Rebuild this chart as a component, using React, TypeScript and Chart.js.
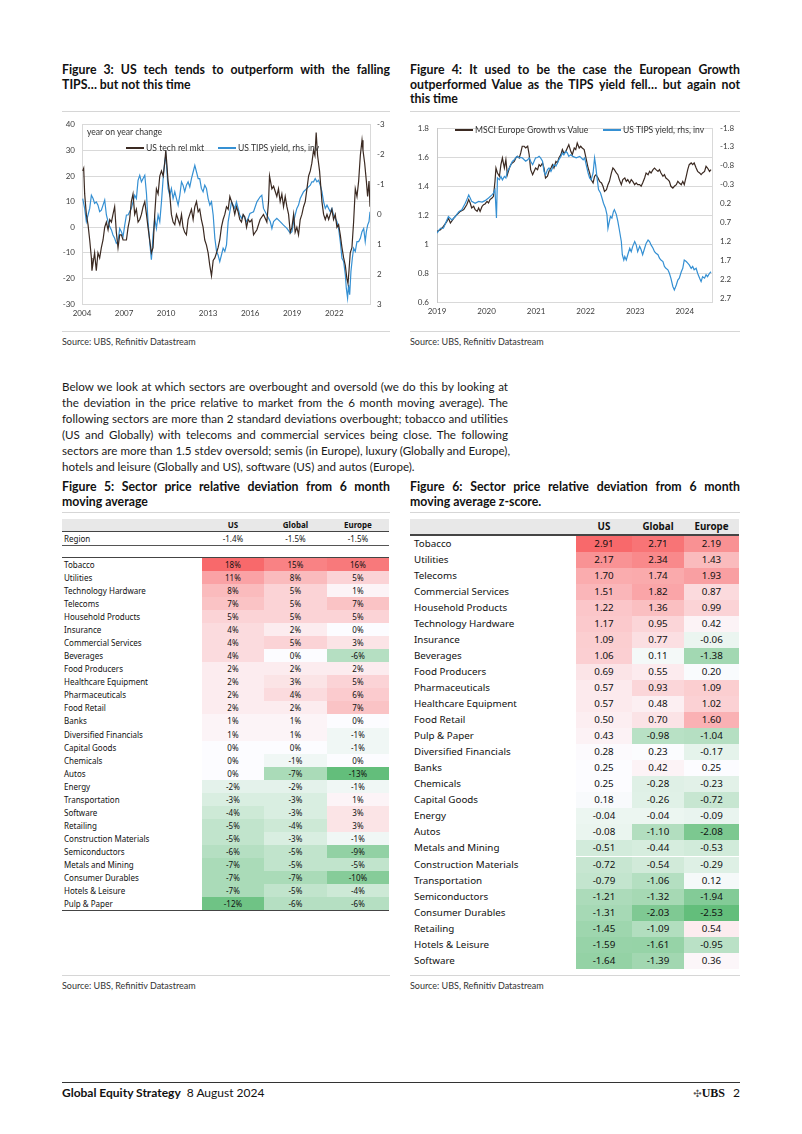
import React, { useEffect, useRef } from "react";
import { Chart, registerables } from "chart.js";

Chart.register(...registerables);

// ---------------- Figure 3 data ----------------
const fig3XTicks = [2004, 2007, 2010, 2013, 2016, 2019, 2022];
const fig3LeftTicks = [-30, -20, -10, 0, 10, 20, 30, 40];
const fig3RightTicks = [-3, -2, -1, 0, 1, 2, 3];

const techRelMkt: [number, number][] = [
  [2004.05, 22], [2004.12, 23], [2004.19, 13], [2004.31, 5], [2004.43, 1], [2004.55, -5], [2004.67, -12], [2004.71, -17], [2004.9, -10], [2005.02, -17],
  [2005.14, -10], [2005.26, -12], [2005.38, -8], [2005.5, -5], [2005.62, 0], [2005.74, 2], [2005.86, -1], [2005.98, 3], [2006.1, 2], [2006.21, 5],
  [2006.33, 8], [2006.45, -2], [2006.57, -8], [2006.69, -3], [2006.81, -3], [2006.93, -5], [2007.05, -5], [2007.17, -5], [2007.29, 0], [2007.4, 3],
  [2007.52, 10], [2007.64, 13], [2007.76, 5], [2007.88, 7], [2008.0, 2], [2008.12, 3], [2008.24, 5], [2008.36, 8], [2008.48, 10], [2008.6, 5],
  [2008.71, 0], [2008.83, -5], [2008.95, -10], [2009.07, -8], [2009.19, 5], [2009.31, 15], [2009.43, 13], [2009.55, 20], [2009.67, 22], [2009.79, 20],
  [2009.9, 25], [2009.98, 30], [2010.05, 25], [2010.14, 18], [2010.26, 13], [2010.38, 5], [2010.5, 2], [2010.62, 1], [2010.74, 5], [2010.86, 3],
  [2010.98, 1], [2011.1, 5], [2011.21, 0], [2011.33, -2], [2011.45, -3], [2011.57, 3], [2011.69, 5], [2011.81, 7], [2011.93, 3], [2012.05, 8],
  [2012.17, 10], [2012.29, 6], [2012.4, 7], [2012.52, 3], [2012.64, 0], [2012.76, -5], [2012.88, -7], [2013.0, -10], [2013.12, -15], [2013.24, -19],
  [2013.36, -13], [2013.48, -12], [2013.6, -10], [2013.71, -8], [2013.83, -5], [2013.95, 0], [2014.07, 3], [2014.19, 5], [2014.31, 8], [2014.43, 7],
  [2014.55, 12], [2014.67, 10], [2014.79, 8], [2014.9, 5], [2015.02, 8], [2015.14, 6], [2015.26, 3], [2015.38, 2], [2015.5, 5], [2015.62, 4],
  [2015.74, 0], [2015.86, 3], [2015.98, 2], [2016.12, 3], [2016.24, -3], [2016.48, -1], [2016.71, 3], [2016.95, 5], [2017.19, 2], [2017.31, 10],
  [2017.38, 20], [2017.55, 15], [2017.67, 16], [2017.9, 12], [2018.02, 15], [2018.14, 10], [2018.26, 13], [2018.38, 8], [2018.5, 12], [2018.62, 8],
  [2018.74, 5], [2018.86, -2], [2018.98, 0], [2019.1, 5], [2019.21, -2], [2019.33, 0], [2019.45, -3], [2019.57, 3], [2019.69, 5], [2019.81, 8],
  [2019.93, 10], [2020.05, 15], [2020.17, 20], [2020.29, 22], [2020.4, 25], [2020.52, 30], [2020.62, 28], [2020.71, 37], [2020.81, 28], [2020.95, 22],
  [2021.05, 15], [2021.12, 10], [2021.24, 5], [2021.36, 3], [2021.48, 5], [2021.6, 3], [2021.71, 5], [2021.83, 7], [2021.95, 3], [2022.07, 5],
  [2022.19, 0], [2022.31, 1], [2022.43, -3], [2022.55, -8], [2022.67, -12], [2022.79, -15], [2022.9, -20], [2022.98, -22], [2023.05, -17], [2023.14, -10],
  [2023.26, -8], [2023.38, 2], [2023.5, 15], [2023.62, 12], [2023.74, 18], [2023.86, 28], [2023.98, 34], [2024.05, 30], [2024.17, 25], [2024.29, 18],
  [2024.38, 12], [2024.48, 18], [2024.55, 8],
];

const tipsYoY: [number, number][] = [
  [2004.05, -0.53], [2004.19, -0.2], [2004.31, 0.24], [2004.43, 0.02], [2004.55, -0.2], [2004.67, -0.64], [2004.79, -0.53], [2004.9, -0.37], [2005.02, -0.42], [2005.14, -0.31],
  [2005.26, -0.09], [2005.38, -0.14], [2005.5, -0.31], [2005.62, -0.48], [2005.74, 0.02], [2005.86, 0.24], [2005.98, 0.41], [2006.1, 0.52], [2006.21, 0.69], [2006.33, 0.8],
  [2006.45, 0.97], [2006.57, 0.91], [2006.69, 0.47], [2006.81, 0.58], [2006.93, 0.74], [2007.05, 0.36], [2007.17, 0.02], [2007.29, 0.02], [2007.4, -0.09], [2007.52, -0.2],
  [2007.64, -0.42], [2007.76, -0.64], [2007.88, -0.53], [2008.0, -1.14], [2008.12, -1.31], [2008.24, -1.09], [2008.36, -1.2], [2008.48, -1.31], [2008.6, -0.7], [2008.71, 0.24],
  [2008.83, 0.91], [2008.95, 1.52], [2009.0, 1.24], [2009.07, 0.69], [2009.19, 0.13], [2009.31, 0.47], [2009.43, 0.02], [2009.55, 0.24], [2009.67, -0.42], [2009.79, -1.2],
  [2009.9, -1.76], [2009.98, -1.98], [2010.05, -1.53], [2010.14, -0.87], [2010.26, -0.64], [2010.38, -0.87], [2010.5, -0.53], [2010.62, -0.76], [2010.74, -0.53], [2010.86, -0.31],
  [2010.98, -0.64], [2011.1, -1.09], [2011.21, -0.98], [2011.33, -0.76], [2011.45, -0.98], [2011.57, -1.09], [2011.69, -0.92], [2011.81, -1.2], [2011.93, -1.42], [2012.05, -1.64],
  [2012.17, -1.42], [2012.29, -1.2], [2012.4, -1.2], [2012.52, -0.87], [2012.64, -0.76], [2012.76, -0.98], [2012.88, -0.87], [2013.0, -0.53], [2013.12, -0.31], [2013.24, -0.42],
  [2013.36, 0.02], [2013.48, 0.8], [2013.6, 1.24], [2013.71, 1.36], [2013.83, 1.58], [2013.95, 1.36], [2014.07, 1.13], [2014.19, 1.24], [2014.31, 1.02], [2014.43, 0.24],
  [2014.55, -0.09], [2014.67, -0.42], [2014.79, -0.31], [2014.9, -0.2], [2015.02, -0.42], [2015.14, -0.2], [2015.26, 0.02], [2015.38, 0.13], [2015.5, 0.02], [2015.62, 0.13],
  [2015.74, 0.24], [2015.86, 0.13], [2015.98, -0.03], [2016.24, -0.09], [2016.48, -0.42], [2016.71, -0.59], [2016.83, -0.64], [2016.95, -0.2], [2017.19, 0.02], [2017.43, 0.24],
  [2017.55, 0.47], [2017.67, 0.24], [2017.9, 0.13], [2018.14, 0.24], [2018.38, 0.36], [2018.62, 0.47], [2018.86, 0.63], [2018.98, 0.58], [2019.1, 0.24], [2019.21, 0.02],
  [2019.33, -0.2], [2019.45, -0.31], [2019.57, -0.53], [2019.81, -0.76], [2020.05, -0.87], [2020.29, -0.98], [2020.4, -1.09], [2020.52, -1.09], [2020.64, -1.2], [2020.76, -1.09],
  [2020.88, -1.14], [2021.0, -0.98], [2021.12, -0.76], [2021.24, -0.42], [2021.36, -0.2], [2021.48, -0.31], [2021.71, -0.09], [2021.83, -0.2], [2021.95, 0.02], [2022.07, 0.13],
  [2022.19, 0.24], [2022.31, 0.47], [2022.43, 0.91], [2022.55, 1.47], [2022.67, 1.58], [2022.79, 2.02], [2022.86, 2.47], [2022.95, 2.8], [2023.02, 2.36], [2023.1, 2.69],
  [2023.19, 1.91], [2023.29, 1.47], [2023.38, 1.13], [2023.5, 1.24], [2023.62, 0.91], [2023.74, 0.91], [2023.86, 0.8], [2023.98, 0.58], [2024.1, 0.47], [2024.21, 0.91],
  [2024.29, 0.58], [2024.38, 0.36], [2024.48, 0.24], [2024.55, -0.09],
];

// ---------------- Figure 4 data ----------------
const fig4XTicks = [2019, 2020, 2021, 2022, 2023, 2024];
const fig4LeftTicks = [0.6, 0.8, 1.0, 1.2, 1.4, 1.6, 1.8];
const fig4RightTicks = [-1.8, -1.3, -0.8, -0.3, 0.2, 0.7, 1.2, 1.7, 2.2, 2.7];

const msciGrowthVsValue: [number, number][] = [
  [2019.0, 1.087], [2019.07, 1.099], [2019.13, 1.122], [2019.2, 1.156], [2019.23, 1.179], [2019.27, 1.145], [2019.34, 1.179], [2019.4, 1.202], [2019.47, 1.225], [2019.54, 1.237],
  [2019.6, 1.271], [2019.64, 1.306], [2019.67, 1.283], [2019.7, 1.248], [2019.74, 1.26], [2019.77, 1.237], [2019.81, 1.225], [2019.84, 1.248], [2019.87, 1.225], [2019.91, 1.26],
  [2019.94, 1.271], [2019.97, 1.276], [2020.01, 1.294], [2020.04, 1.283], [2020.07, 1.306], [2020.11, 1.317], [2020.14, 1.329], [2020.17, 1.432], [2020.19, 1.524], [2020.22, 1.49],
  [2020.26, 1.467], [2020.29, 1.547], [2020.32, 1.593], [2020.36, 1.524], [2020.39, 1.582], [2020.42, 1.478], [2020.46, 1.524], [2020.49, 1.547], [2020.52, 1.559], [2020.56, 1.57],
  [2020.59, 1.593], [2020.62, 1.605], [2020.66, 1.593], [2020.69, 1.628], [2020.72, 1.674], [2020.76, 1.674], [2020.79, 1.662], [2020.83, 1.674], [2020.86, 1.616], [2020.89, 1.513],
  [2020.93, 1.478], [2020.96, 1.501], [2020.99, 1.524], [2021.03, 1.513], [2021.06, 1.547], [2021.09, 1.536], [2021.13, 1.559], [2021.16, 1.524], [2021.19, 1.455], [2021.23, 1.467],
  [2021.26, 1.501], [2021.3, 1.524], [2021.33, 1.547], [2021.36, 1.524], [2021.4, 1.57], [2021.43, 1.559], [2021.46, 1.593], [2021.5, 1.616], [2021.53, 1.651], [2021.56, 1.628],
  [2021.6, 1.639], [2021.63, 1.662], [2021.66, 1.685], [2021.7, 1.639], [2021.73, 1.616], [2021.77, 1.662], [2021.8, 1.651], [2021.83, 1.697], [2021.87, 1.662], [2021.9, 1.674],
  [2021.93, 1.662], [2021.97, 1.651], [2022.0, 1.605], [2022.05, 1.524], [2022.08, 1.49], [2022.11, 1.444], [2022.15, 1.421], [2022.18, 1.467], [2022.21, 1.478], [2022.25, 1.455],
  [2022.28, 1.432], [2022.32, 1.421], [2022.35, 1.398], [2022.38, 1.363], [2022.42, 1.375], [2022.45, 1.409], [2022.48, 1.432], [2022.52, 1.49], [2022.55, 1.524], [2022.58, 1.513],
  [2022.62, 1.49], [2022.65, 1.478], [2022.68, 1.444], [2022.72, 1.409], [2022.75, 1.444], [2022.79, 1.455], [2022.82, 1.432], [2022.85, 1.444], [2022.89, 1.421], [2022.92, 1.444],
  [2022.95, 1.432], [2022.99, 1.409], [2023.02, 1.421], [2023.05, 1.409], [2023.09, 1.409], [2023.12, 1.398], [2023.15, 1.421], [2023.19, 1.455], [2023.22, 1.49], [2023.26, 1.478],
  [2023.29, 1.501], [2023.32, 1.49], [2023.36, 1.513], [2023.39, 1.524], [2023.42, 1.513], [2023.46, 1.501], [2023.49, 1.513], [2023.52, 1.49], [2023.56, 1.467], [2023.59, 1.478],
  [2023.62, 1.455], [2023.66, 1.444], [2023.69, 1.432], [2023.72, 1.398], [2023.76, 1.386], [2023.79, 1.398], [2023.83, 1.409], [2023.86, 1.432], [2023.89, 1.421], [2023.93, 1.409],
  [2023.96, 1.432], [2023.99, 1.409], [2024.03, 1.467], [2024.06, 1.513], [2024.09, 1.547], [2024.13, 1.559], [2024.16, 1.547], [2024.19, 1.559], [2024.23, 1.524], [2024.26, 1.501],
  [2024.3, 1.49], [2024.33, 1.478], [2024.36, 1.49], [2024.4, 1.501], [2024.43, 1.536], [2024.46, 1.524], [2024.5, 1.501], [2024.53, 1.513],
];

const tipsYieldLevel: [number, number][] = [
  [2019.0, 0.98], [2019.07, 0.85], [2019.13, 0.85], [2019.2, 0.63], [2019.23, 0.54], [2019.3, 0.63], [2019.37, 0.54], [2019.44, 0.41], [2019.5, 0.36], [2019.57, 0.19],
  [2019.6, 0.1], [2019.64, -0.03], [2019.67, 0.05], [2019.7, 0.14], [2019.77, 0.19], [2019.84, 0.14], [2019.91, 0.16], [2019.97, 0.12], [2020.04, 0.05], [2020.11, -0.03],
  [2020.14, -0.08], [2020.17, -0.17], [2020.2, 0.58], [2020.22, -0.48], [2020.26, -0.43], [2020.29, -0.52], [2020.32, -0.43], [2020.36, -0.52], [2020.39, -0.48], [2020.42, -0.65],
  [2020.46, -0.74], [2020.49, -0.83], [2020.52, -0.92], [2020.56, -0.96], [2020.59, -1.02], [2020.62, -1.05], [2020.66, -1.01], [2020.69, -1.02], [2020.72, -1.01], [2020.76, -0.96],
  [2020.79, -0.92], [2020.83, -0.96], [2020.86, -1.01], [2020.89, -0.92], [2020.93, -0.83], [2020.96, -0.92], [2020.99, -1.01], [2021.03, -1.02], [2021.06, -1.05], [2021.09, -1.01],
  [2021.13, -0.92], [2021.16, -0.65], [2021.19, -0.56], [2021.23, -0.7], [2021.26, -0.74], [2021.3, -0.65], [2021.33, -0.74], [2021.36, -0.83], [2021.4, -0.79], [2021.43, -0.87],
  [2021.46, -0.96], [2021.5, -1.05], [2021.53, -1.14], [2021.56, -1.09], [2021.6, -1.18], [2021.63, -1.14], [2021.66, -1.05], [2021.7, -1.09], [2021.74, -1.05], [2021.81, -1.01],
  [2021.88, -1.05], [2021.95, -0.96], [2021.98, -1.01], [2022.01, -0.83], [2022.05, -0.61], [2022.08, -0.48], [2022.11, -0.43], [2022.15, -0.61], [2022.18, -1.01], [2022.2, -0.83],
  [2022.23, -0.48], [2022.26, -0.17], [2022.3, -0.08], [2022.33, 0.05], [2022.36, 0.19], [2022.4, 0.32], [2022.43, 0.49], [2022.45, 0.85], [2022.47, 0.72], [2022.5, 0.54],
  [2022.53, 0.58], [2022.56, 0.41], [2022.58, 0.36], [2022.62, 0.49], [2022.65, 0.67], [2022.68, 0.89], [2022.72, 1.2], [2022.74, 1.55], [2022.77, 1.69], [2022.79, 1.6],
  [2022.82, 1.69], [2022.85, 1.55], [2022.89, 1.38], [2022.92, 1.47], [2022.95, 1.33], [2022.99, 1.2], [2023.02, 1.29], [2023.05, 1.47], [2023.09, 1.33], [2023.12, 1.42],
  [2023.15, 1.55], [2023.19, 1.38], [2023.22, 1.25], [2023.26, 1.16], [2023.29, 1.2], [2023.32, 1.29], [2023.36, 1.38], [2023.39, 1.47], [2023.42, 1.51], [2023.46, 1.55],
  [2023.49, 1.64], [2023.52, 1.69], [2023.56, 1.73], [2023.59, 1.86], [2023.62, 1.91], [2023.66, 1.95], [2023.69, 2.04], [2023.72, 2.17], [2023.76, 2.39], [2023.79, 2.48],
  [2023.83, 2.35], [2023.86, 2.22], [2023.89, 2.17], [2023.93, 2.0], [2023.96, 1.91], [2023.99, 1.69], [2024.03, 1.73], [2024.06, 1.77], [2024.09, 1.82], [2024.13, 1.91],
  [2024.16, 1.86], [2024.19, 1.95], [2024.23, 1.91], [2024.26, 2.04], [2024.3, 2.17], [2024.33, 2.26], [2024.36, 2.13], [2024.4, 2.17], [2024.43, 2.08], [2024.46, 2.13],
  [2024.5, 2.04], [2024.53, 2.0],
];

// ---------------- Figure 5 data ----------------
const fig5Columns = ["US", "Global", "Europe"];
const fig5Region = ["-1.4%", "-1.5%", "-1.5%"];
const fig5Sectors = [
  "Tobacco", "Utilities", "Technology Hardware", "Telecoms", "Household Products", "Insurance", "Commercial Services", "Beverages", "Food Producers",
  "Healthcare Equipment", "Pharmaceuticals", "Food Retail", "Banks", "Diversified Financials", "Capital Goods", "Chemicals", "Autos", "Energy",
  "Transportation", "Software", "Retailing", "Construction Materials", "Semiconductors", "Metals and Mining", "Consumer Durables", "Hotels & Leisure", "Pulp & Paper",
];
const fig5US = [18, 11, 8, 7, 5, 4, 4, 4, 2, 2, 2, 2, 1, 1, 0, 0, 0, -2, -3, -4, -5, -5, -6, -7, -7, -7, -12];
const fig5Global = [15, 8, 5, 5, 5, 2, 5, 0, 2, 3, 4, 2, 1, 1, 0, -1, -7, -2, -3, -3, -4, -3, -5, -5, -7, -5, -6];
const fig5Europe = [16, 5, 1, 7, 5, 0, 3, -6, 2, 5, 6, 7, 0, -1, -1, 0, -13, -1, 1, 3, 3, -1, -9, -5, -10, -4, -6];

// ---------------- Figure 6 data ----------------
const fig6Sectors = [
  "Tobacco", "Utilities", "Telecoms", "Commercial Services", "Household Products", "Technology Hardware", "Insurance", "Beverages", "Food Producers",
  "Pharmaceuticals", "Healthcare Equipment", "Food Retail", "Pulp & Paper", "Diversified Financials", "Banks", "Chemicals", "Capital Goods", "Energy",
  "Autos", "Metals and Mining", "Construction Materials", "Transportation", "Semiconductors", "Consumer Durables", "Retailing", "Hotels & Leisure", "Software",
];
const fig6US = [2.91, 2.17, 1.7, 1.51, 1.22, 1.17, 1.09, 1.06, 0.69, 0.57, 0.57, 0.5, 0.43, 0.28, 0.25, 0.25, 0.18, -0.04, -0.08, -0.51, -0.72, -0.79, -1.21, -1.31, -1.45, -1.59, -1.64];
const fig6Global = [2.71, 2.34, 1.74, 1.82, 1.36, 0.95, 0.77, 0.11, 0.55, 0.93, 0.48, 0.7, -0.98, 0.23, 0.42, -0.28, -0.26, -0.04, -1.1, -0.44, -0.54, -1.06, -1.32, -2.03, -1.09, -1.61, -1.39];
const fig6Europe = [2.19, 1.43, 1.93, 0.87, 0.99, 0.42, -0.06, -1.38, 0.2, 1.09, 1.02, 1.6, -1.04, -0.17, 0.25, -0.23, -0.72, -0.09, -2.08, -0.53, -0.29, 0.12, -1.94, -2.53, 0.54, -0.95, 0.36];

// ---------------- styles ----------------
const SANS = "Lato, 'Noto Sans', sans-serif";
const TABLE_FONT = "'Noto Sans', Lato, sans-serif";
const BROWN = "#3b2a22";
const BLUE = "#3590d3";
const GRID = "#d9d9d9";
const TICK_COLOR = "#3c3c3c";
const RULE = "#d6d6d6";

function fixedTicks(values: number[]) {
  return (scale: any) => {
    scale.ticks = values.map((v) => ({ value: v }));
  };
}

const fmt = (v: any) => String(Number(Number(v).toFixed(1)));

function fig3Config(): any {
  const tickFont = { family: SANS, size: 8 };
  return {
    type: "line",
    data: {
      datasets: [
        { label: "US tech rel mkt", data: techRelMkt.map(([x, y]) => ({ x, y })), yAxisID: "y", borderColor: BROWN, borderWidth: 1.2, pointRadius: 0, fill: false },
        { label: "US TIPS yield, rhs, inv", data: tipsYoY.map(([x, y]) => ({ x, y })), yAxisID: "y1", borderColor: BLUE, borderWidth: 1.2, pointRadius: 0, fill: false },
      ],
    },
    options: {
      responsive: false,
      animation: false,
      devicePixelRatio: 1,
      events: [],
      layout: { padding: { top: 11, left: 0, right: 0, bottom: 0 } },
      plugins: { legend: { display: false }, tooltip: { enabled: false } },
      scales: {
        x: {
          type: "linear", min: 2004, max: 2024.55,
          afterBuildTicks: fixedTicks(fig3XTicks),
          afterFit: (s: any) => { s.height = 21; },
          grid: { display: false, drawTicks: false },
          border: { display: true, color: GRID },
          ticks: { font: tickFont, color: TICK_COLOR, padding: 5, autoSkip: false, maxRotation: 0, callback: (v: any) => String(v) },
        },
        y: {
          position: "left", min: -30, max: 40,
          afterBuildTicks: fixedTicks(fig3LeftTicks),
          afterFit: (s: any) => { s.width = 20; },
          grid: { color: GRID, drawTicks: false },
          border: { display: true, color: GRID },
          ticks: { font: tickFont, color: TICK_COLOR, padding: 7, callback: (v: any) => String(v) },
        },
        y1: {
          position: "right", min: -3, max: 3, reverse: true,
          afterBuildTicks: fixedTicks(fig3RightTicks),
          afterFit: (s: any) => { s.width = 20; },
          grid: { display: false, drawTicks: false },
          border: { display: true, color: GRID },
          ticks: { font: tickFont, color: TICK_COLOR, padding: 7, callback: (v: any) => String(v) },
        },
      },
    },
  };
}

function fig4Config(): any {
  const tickFont = { family: SANS, size: 8 };
  return {
    type: "line",
    data: {
      datasets: [
        { label: "US TIPS yield, rhs, inv", data: tipsYieldLevel.map(([x, y]) => ({ x, y })), yAxisID: "y1", borderColor: BLUE, borderWidth: 1.2, pointRadius: 0, fill: false },
        { label: "MSCI Europe Growth vs Value", data: msciGrowthVsValue.map(([x, y]) => ({ x, y })), yAxisID: "y", borderColor: BROWN, borderWidth: 1.2, pointRadius: 0, fill: false },
      ],
    },
    options: {
      responsive: false,
      animation: false,
      devicePixelRatio: 1,
      events: [],
      layout: { padding: { top: 15, left: 0, right: 0, bottom: 0 } },
      plugins: { legend: { display: false }, tooltip: { enabled: false } },
      scales: {
        x: {
          type: "linear", min: 2019, max: 2024.55,
          afterBuildTicks: fixedTicks(fig4XTicks),
          afterFit: (s: any) => { s.height = 23; },
          grid: { display: false, drawTicks: false },
          border: { display: true, color: GRID },
          ticks: { font: tickFont, color: TICK_COLOR, padding: 5, autoSkip: false, maxRotation: 0, callback: (v: any) => String(v) },
        },
        y: {
          position: "left", min: 0.6, max: 1.8,
          afterBuildTicks: fixedTicks(fig4LeftTicks),
          afterFit: (s: any) => { s.width = 27; },
          grid: { color: GRID, drawTicks: false },
          border: { display: true, color: "#c8c8c8" },
          ticks: { font: tickFont, color: TICK_COLOR, padding: 8, callback: fmt },
        },
        y1: {
          position: "right", min: -1.8, max: 2.8, reverse: true,
          afterBuildTicks: fixedTicks(fig4RightTicks),
          afterFit: (s: any) => { s.width = 28; },
          grid: { display: false, drawTicks: false },
          border: { display: true, color: GRID },
          ticks: { font: tickFont, color: TICK_COLOR, padding: 8, callback: fmt },
        },
      },
    },
  };
}

function ChartCanvas({ build, left, top, width, height }: { build: () => any; left: number; top: number; width: number; height: number }) {
  const ref = useRef<HTMLCanvasElement | null>(null);
  useEffect(() => {
    if (!ref.current) return;
    const chart = new Chart(ref.current, build());
    return () => chart.destroy();
  }, []);
  return <canvas ref={ref} width={width} height={height} style={{ position: "absolute", left, top, width, height }} />;
}

function Lines({ lines, left, top, width, lh, size, bold, color = "#111", justify = true }: any) {
  return (
    <div style={{ position: "absolute", left, top, width, fontFamily: SANS, fontSize: size, fontWeight: bold ? 700 : 400, color, lineHeight: lh + "px" }}>
      {lines.map((t: string, i: number) => {
        const last = i === lines.length - 1;
        return (
          <div key={i} style={{ height: lh, whiteSpace: "nowrap", textAlign: justify && !last ? "justify" : "left", textAlignLast: justify && !last ? "justify" : "left" } as any}>
            {t}
          </div>
        );
      })}
    </div>
  );
}

function Rule({ left, top, width, color = RULE, h = 1 }: any) {
  return <div style={{ position: "absolute", left, top, width, height: h, background: color }} />;
}

function Text({ left, top, children, size = 9, color = "#333", bold = false, family = SANS, center = false, width }: any) {
  return (
    <div style={{ position: "absolute", left, top, width, fontFamily: family, fontSize: size, color, fontWeight: bold ? 700 : 400, whiteSpace: "nowrap", lineHeight: "12px", textAlign: center ? "center" : "left" }}>
      {children}
    </div>
  );
}

function LegendItem({ left, top, color, label, lineW = 18 }: any) {
  return (
    <div style={{ position: "absolute", left, top, display: "flex", alignItems: "center", fontFamily: SANS, fontSize: 8.6, color: "#333", whiteSpace: "nowrap", lineHeight: "10px" }}>
      <div style={{ width: lineW, height: 2, background: color, marginRight: 2 }} />
      <span>{label}</span>
    </div>
  );
}

function heat(v: number, min: number, mid: number, max: number) {
  const white = [252, 252, 255];
  const red = [248, 105, 107];
  const green = [99, 190, 123];
  let t: number;
  let c: number[];
  if (v >= mid) {
    t = Math.min(1, (v - mid) / (max - mid));
    c = red;
  } else {
    t = Math.min(1, (mid - v) / (mid - min));
    c = green;
  }
  return `rgb(${white.map((w, i) => Math.round(w + (c[i] - w) * t)).join(",")})`;
}

function Fig5Table() {
  const left = 62;
  const labelW = 139.7;
  const colW = 62.5;
  const rowH = 13.04;
  const bodyTop = 558;
  const cols = [fig5US, fig5Global, fig5Europe];
  const all = [...fig5US, ...fig5Global, ...fig5Europe];
  const min = Math.min(...all);
  const max = Math.max(...all);
  const font = { fontFamily: TABLE_FONT, fontSize: 8, color: "#111" };
  const width = labelW + colW * 3;
  return (
    <>
      <div style={{ position: "absolute", left, top: 519, width, height: 12, background: "#e8e8e8" }} />
      {fig5Columns.map((c, j) => (
        <div key={c} style={{ position: "absolute", left: left + labelW + colW * j, top: 519, width: colW, height: 12, lineHeight: "12px", textAlign: "center", ...font, fontWeight: 700 }}>{c}</div>
      ))}
      <Rule left={left} top={531} width={width} color="#444" h={1.3} />
      <div style={{ position: "absolute", left: left + 2, top: 532.5, height: 12.5, lineHeight: "12.5px", ...font }}>Region</div>
      {fig5Region.map((r, j) => (
        <div key={j} style={{ position: "absolute", left: left + labelW + colW * j, top: 532.5, width: colW, height: 12.5, lineHeight: "12.5px", textAlign: "center", ...font }}>{r}</div>
      ))}
      <Rule left={left} top={545} width={width} color="#555" h={1} />
      <Rule left={left} top={556.7} width={width} color="#444" h={1.3} />
      {fig5Sectors.map((s, i) => (
        <React.Fragment key={s}>
          <div style={{ position: "absolute", left: left + 2, top: bodyTop + rowH * i, height: rowH, lineHeight: rowH + "px", ...font }}>{s}</div>
          {cols.map((col, j) => (
            <div key={j} style={{ position: "absolute", left: left + labelW + colW * j, top: bodyTop + rowH * i, width: colW, height: rowH, lineHeight: rowH + "px", textAlign: "center", background: heat(col[i], min, 0, max), ...font }}>
              {col[i]}%
            </div>
          ))}
        </React.Fragment>
      ))}
      <Rule left={left} top={bodyTop + rowH * fig5Sectors.length} width={width} color="#444" h={1.3} />
    </>
  );
}

function Fig6Table() {
  const left = 410;
  const labelW = 166;
  const colWs = [56, 52, 55];
  const colL = [0, 56, 108];
  const rowH = 16.05;
  const bodyTop = 535.5;
  const cols = [fig6US, fig6Global, fig6Europe];
  const all = [...fig6US, ...fig6Global, ...fig6Europe];
  const min = Math.min(...all);
  const max = Math.max(...all);
  const font = { fontFamily: TABLE_FONT, fontSize: 9.8, color: "#111" };
  const width = labelW + 163;
  return (
    <>
      <div style={{ position: "absolute", left, top: 519, width, height: 15, background: "#e8e8e8" }} />
      {fig5Columns.map((c, j) => (
        <div key={c} style={{ position: "absolute", left: left + labelW + colL[j], top: 519, width: colWs[j], height: 15, lineHeight: "15px", textAlign: "center", ...font, fontWeight: 700 }}>{c}</div>
      ))}
      <Rule left={left} top={534} width={width} color="#444" h={1.5} />
      {fig6Sectors.map((s, i) => (
        <React.Fragment key={s}>
          <div style={{ position: "absolute", left: left + 4, top: bodyTop + rowH * i, height: rowH, lineHeight: rowH + "px", ...font }}>{s}</div>
          {cols.map((col, j) => (
            <div key={j} style={{ position: "absolute", left: left + labelW + colL[j], top: bodyTop + rowH * i, width: colWs[j], height: rowH, lineHeight: rowH + "px", textAlign: "center", background: heat(col[i], min, 0.25, max), ...font }}>
              {col[i].toFixed(2)}
            </div>
          ))}
        </React.Fragment>
      ))}
    </>
  );
}

const paragraph = [
  "Below we look at which sectors are overbought and oversold (we do this by looking at",
  "the deviation in the price relative to market from the 6 month moving average). The",
  "following sectors are more than 2 standard deviations overbought; tobacco and utilities",
  "(US and Globally) with telecoms and commercial services being close. The following",
  "sectors are more than 1.5 stdev oversold; semis (in Europe), luxury (Globally and Europe),",
  "hotels and leisure (Globally and US), software (US) and autos (Europe).",
];

export default function App() {
  return (
    <div style={{ position: "absolute", left: 0, top: 0, width: 802, height: 1134, background: "#fff", overflow: "hidden" }}>
      {/* Figure 3 */}
      <Lines lines={["Figure 3: US tech tends to outperform with the falling", "TIPS… but not this time"]} left={62} top={63} width={328} lh={14.5} size={12.3} bold />
      <Rule left={62} top={111} width={328} />
      <ChartCanvas build={fig3Config} left={62} top={113} width={328} height={212} />
      <Text left={87} top={126} size={8.6}>year on year change</Text>
      <LegendItem left={126} top={143} color={BROWN} label="US tech rel mkt" />
      <LegendItem left={218} top={143} color={BLUE} label="US TIPS yield, rhs, inv" />
      <Rule left={62} top={331} width={328} />
      <Text left={62} top={336} size={9}>Source: UBS, Refinitiv Datastream</Text>

      {/* Figure 4 */}
      <Lines lines={["Figure 4: It used to be the case the European Growth", "outperformed Value as the TIPS yield fell… but again not", "this time"]} left={410} top={63} width={330} lh={14.5} size={12.3} bold />
      <Rule left={410} top={111} width={330} />
      <ChartCanvas build={fig4Config} left={410} top={113} width={330} height={212} />
      <LegendItem left={455} top={125} color={BROWN} label="MSCI Europe Growth vs Value" />
      <LegendItem left={603} top={125} color={BLUE} label="US TIPS yield, rhs, inv" />
      <Rule left={410} top={331} width={330} />
      <Text left={410} top={336} size={9}>Source: UBS, Refinitiv Datastream</Text>

      {/* Paragraph */}
      <Lines lines={paragraph} left={62} top={379} width={446} lh={16} size={11.6} color="#1a1a1a" />

      {/* Figure 5 */}
      <Lines lines={["Figure 5: Sector price relative deviation from 6 month", "moving average"]} left={62} top={480} width={328} lh={14.5} size={12.3} bold />
      <Rule left={62} top={512} width={328} />
      <Fig5Table />
      <Rule left={62} top={975} width={328} />
      <Text left={62} top={980} size={9}>Source: UBS, Refinitiv Datastream</Text>

      {/* Figure 6 */}
      <Lines lines={["Figure 6: Sector price relative deviation from 6 month", "moving average z-score."]} left={410} top={480} width={330} lh={14.5} size={12.3} bold />
      <Rule left={410} top={512} width={330} />
      <Fig6Table />
      <Rule left={410} top={975} width={330} />
      <Text left={410} top={980} size={9}>Source: UBS, Refinitiv Datastream</Text>

      {/* Footer */}
      <Rule left={62} top={1082} width={678} color="#333" h={1} />
      <div style={{ position: "absolute", left: 62, top: 1086, fontFamily: SANS, fontSize: 12, color: "#111", whiteSpace: "nowrap", lineHeight: "14px" }}>
        <span style={{ fontWeight: 700 }}>Global Equity Strategy</span>
        <span style={{ marginLeft: 6 }}>8 August 2024</span>
      </div>
      <div style={{ position: "absolute", left: 688, top: 1086, width: 52, textAlign: "right", fontSize: 12, color: "#111", whiteSpace: "nowrap", lineHeight: "14px" }}>
        <span style={{ fontFamily: "'DejaVu Sans', sans-serif", fontSize: 10, color: "#555" }}>✣</span>
        <span style={{ fontFamily: "'Liberation Serif', serif", fontWeight: 700 }}>UBS</span>
        <span style={{ fontFamily: SANS, marginLeft: 8 }}>2</span>
      </div>
    </div>
  );
}
